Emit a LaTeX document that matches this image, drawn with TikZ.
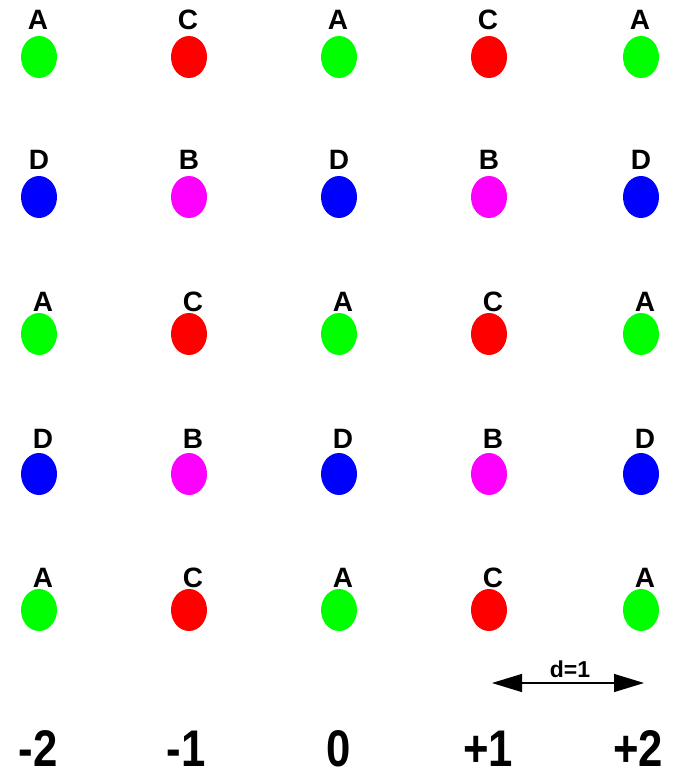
\documentclass[tikz,border=0pt]{standalone}
\usepackage{graphicx}
\usepackage{fontspec}
\setmainfont{Liberation Sans}
\usetikzlibrary{shapes.geometric,arrows.meta}
\definecolor{cA}{RGB}{0,255,0}
\definecolor{cB}{RGB}{255,0,255}
\definecolor{cC}{RGB}{255,0,0}
\definecolor{cD}{RGB}{0,0,255}
\newcommand{\tallnum}[1]{\scalebox{0.95}[1.12]{#1}}
\tikzset{
  dot/.style={ellipse, minimum width=36pt, minimum height=42pt, inner sep=0pt, draw=none},
  lbl/.style={anchor=base, inner sep=0pt, font=\fontsize{28pt}{30pt}\selectfont\bfseries},
  axis/.style={anchor=base, inner sep=0pt, font=\fontsize{46pt}{48pt}\selectfont\bfseries},
  dist/.style={anchor=base, inner sep=0pt, font=\fontsize{23pt}{25pt}\selectfont\bfseries},
  darrow/.style={line width=1.2pt, {Triangle[length=30pt,width=18pt]}-{Triangle[length=30pt,width=18pt]}}
}
\begin{document}
\begin{tikzpicture}[x=1pt,y=-1pt]
\useasboundingbox (0,0) rectangle (674,770);
% columns
\def\xa{39}\def\xb{189}\def\xc{339}\def\xd{489}\def\xe{641}
% row 1
\foreach \i/\x/\c/\t in {1/\xa/cA/A,2/\xb/cC/C,3/\xc/cA/A,4/\xd/cC/C,5/\xe/cA/A}{
  \node[dot, fill=\c] (r1c\i) at (\x,57) {};
  \node[lbl] (l1c\i) at (\x-1,30) {\t};
}
% row 2
\foreach \i/\x/\c/\t in {1/\xa/cD/D,2/\xb/cB/B,3/\xc/cD/D,4/\xd/cB/B,5/\xe/cD/D}{
  \node[dot, fill=\c] (r2c\i) at (\x,197) {};
  \node[lbl] (l2c\i) at (\x,170) {\t};
}
% row 3
\foreach \i/\x/\c/\t in {1/\xa/cA/A,2/\xb/cC/C,3/\xc/cA/A,4/\xd/cC/C,5/\xe/cA/A}{
  \node[dot, fill=\c] (r3c\i) at (\x,334) {};
  \node[lbl] (l3c\i) at (\x+4,311) {\t};
}
% row 4
\foreach \i/\x/\c/\t in {1/\xa/cD/D,2/\xb/cB/B,3/\xc/cD/D,4/\xd/cB/B,5/\xe/cD/D}{
  \node[dot, fill=\c] (r4c\i) at (\x,474) {};
  \node[lbl] (l4c\i) at (\x+4,448) {\t};
}
% row 5
\foreach \i/\x/\c/\t in {1/\xa/cA/A,2/\xb/cC/C,3/\xc/cA/A,4/\xd/cC/C,5/\xe/cA/A}{
  \node[dot, fill=\c] (r5c\i) at (\x,610) {};
  \node[lbl] (l5c\i) at (\x+4,587) {\t};
}
% axis labels
\node[axis] (n1) at (38,766) {\tallnum{-2}};
\node[axis] (n2) at (186,766) {\tallnum{-1}};
\node[axis] (n3) at (339,766) {\tallnum{0}};
\node[axis] (n4) at (488,766) {\tallnum{+1}};
\node[axis] (n5) at (638,766) {\tallnum{+2}};
% distance arrow
\coordinate (dl) at (492,683);
\coordinate (dr) at (644,683);
\draw[darrow] (dl) -- (dr);
\node[dist] (dlab) at (570,677) {d=1};
\end{tikzpicture}
\end{document}
